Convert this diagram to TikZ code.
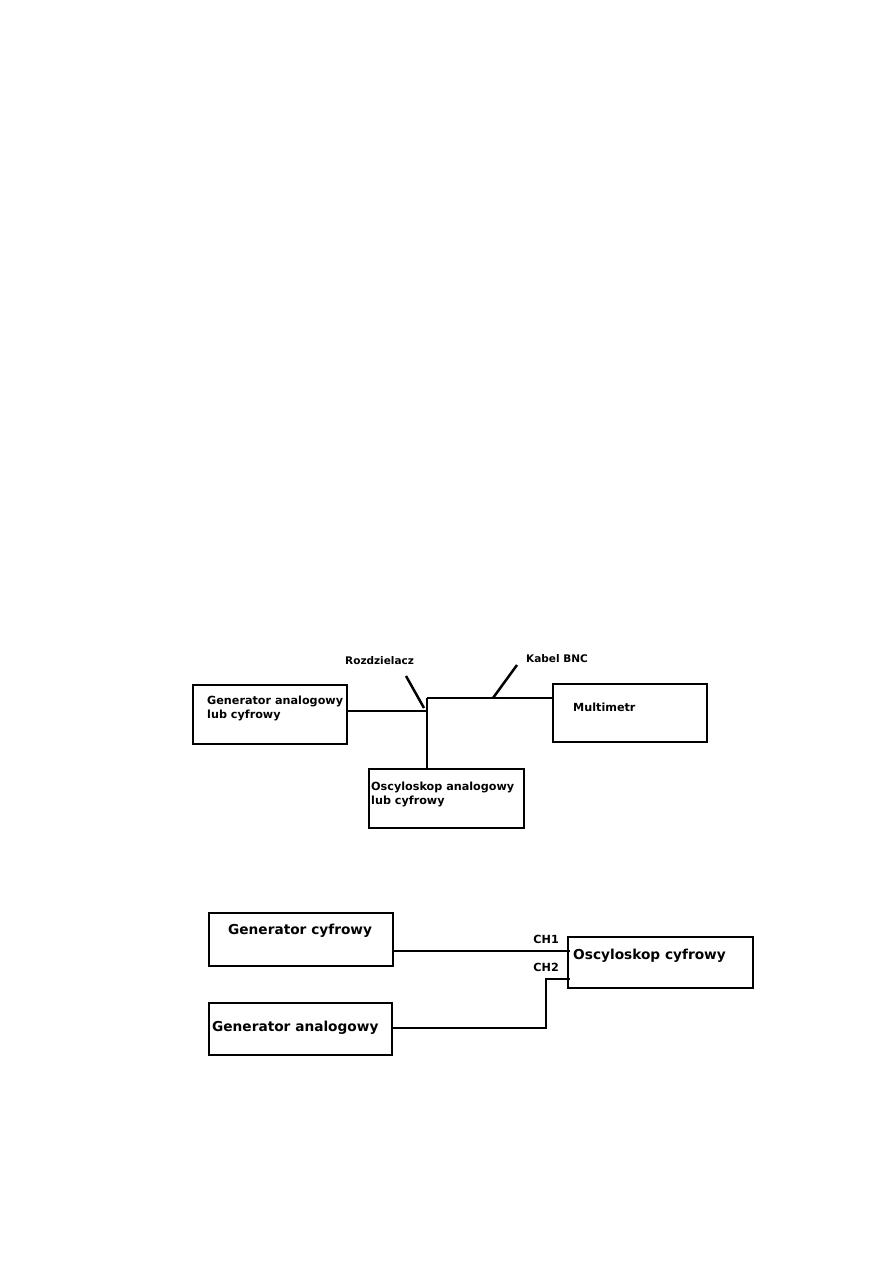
\documentclass[tikz,border=0pt]{standalone}
\usepackage{fontspec}
\setmainfont{DejaVu Sans}
\tikzset{
  box/.style={draw, line width=2.5pt, rectangle, inner sep=0pt},
  wire/.style={line width=2.5pt},
  small/.style={font=\bfseries\fontsize{11.2}{14}\selectfont, inner sep=0pt, align=left, anchor=west},
  big/.style={font=\bfseries\fontsize{13.7}{16}\selectfont, inner sep=0pt, anchor=west},
  tag/.style={font=\bfseries\fontsize{10.5}{12}\selectfont, inner sep=0pt, anchor=west}
}
\begin{document}
\begin{tikzpicture}[x=1pt, y=-1pt]
    \useasboundingbox (0,0) rectangle (893,1263);
    % uklad 1
    \node[box, minimum width=154, minimum height=59] (gen) at (270,714.5) {};
    \node[box, minimum width=154, minimum height=58] (multi) at (630,713) {};
    \node[box, minimum width=155, minimum height=59] (osc) at (446.5,798.5) {};
    \node[small] (gentxt) at (207,708) {Generator analogowy\\lub cyfrowy};
    \node[small] (multitxt) at (573,707) {Multimetr};
    \node[small] (osctxt) at (371,794.5) {Oscyloskop analogowy\\lub cyfrowy};
    \coordinate (split) at (427,711);
    \coordinate (top) at (427,698);
    \draw[wire] (gen.east |- split) -- (split);
    \draw[wire] (top) -- (top |- osc.north);
    \draw[wire] (top) -- (top -| multi.west);
    \node[tag] (rozd) at (345,661) {Rozdzielacz};
    \node[tag] (bnc) at (526,659) {Kabel BNC};
    \coordinate (rtick) at (406,676);
    \coordinate (btick) at (517,665);
    \draw[wire] (rtick) -- (424,708);
    \draw[wire] (btick) -- (493,698);
    % uklad 2
    \node[box, minimum width=184, minimum height=53] (gcyf) at (301,939.5) {};
    \node[box, minimum width=183, minimum height=52] (gana) at (300.5,1029) {};
    \node[box, minimum width=185, minimum height=51] (ocyf) at (660.5,962.5) {};
    \node[big] (gcyftxt) at (228,931) {Generator cyfrowy};
    \node[big] (ganatxt) at (212,1028) {Generator analogowy};
    \node[big] (ocyftxt) at (573,956) {Oscyloskop cyfrowy};
    \coordinate (ch1) at (570,951);
    \coordinate (ch2) at (570,979);
    \coordinate (bend) at (546,1028);
    \draw[wire] (gcyf.east |- ch1) -- (ch1);
    \draw[wire] (gana.east |- bend) -- (bend) |- (ch2);
    \node[small, anchor=east] (ch1txt) at (559,939) {CH1};
    \node[small, anchor=east] (ch2txt) at (559,967) {CH2};
\end{tikzpicture}
\end{document}
